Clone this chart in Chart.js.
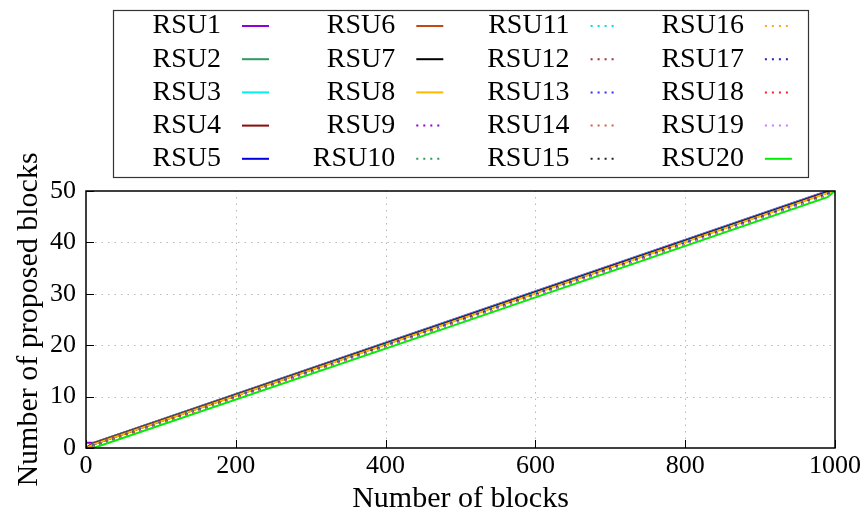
<!DOCTYPE html>
<html lang="en">
<head>
<meta charset="UTF-8">
<title>Proposed blocks per RSU</title>
<script src="https://cdn.jsdelivr.net/npm/chart.js"></script>
<style>
  body { margin: 0; background: #fff; }
  #wrap { width: 864px; height: 517px; }
</style>
</head>
<body>
<div id="wrap"><canvas id="myChart"></canvas></div>
<script>
// number of blocks (x) and proposed blocks per RSU (y)
const blocks = [0, 10, 500, 990, 1000];
const rsu1  = [1, 1,   25.5, 50,   50];
const rsu2  = [0, 1,   25.4, 49.9, 50];
const rsu3  = [0, 0.9, 25.4, 49.9, 50];
const rsu4  = [0, 0.9, 25.3, 49.8, 50];
const rsu5  = [0, 0.8, 25.3, 49.8, 50];
const rsu6  = [0, 0.8, 25.2, 49.7, 50];
const rsu7  = [0, 0.7, 25.2, 49.7, 50];
const rsu8  = [0, 0.7, 25.1, 49.6, 50];
const rsu9  = [0, 0.6, 25.1, 49.6, 50];
const rsu10 = [0, 0.6, 25.0, 49.5, 50];
const rsu11 = [0, 0.5, 25.0, 49.5, 50];
const rsu12 = [0, 0.5, 24.9, 49.4, 50];
const rsu13 = [0, 0.4, 24.9, 49.4, 50];
const rsu14 = [0, 0.4, 24.8, 49.3, 50];
const rsu15 = [0, 0.3, 24.8, 49.3, 50];
const rsu16 = [0, 0.3, 24.7, 49.2, 50];
const rsu17 = [0, 0.2, 24.7, 49.2, 50];
const rsu18 = [0, 0.2, 24.6, 49.1, 50];
const rsu19 = [0, 0.1, 24.6, 49.1, 50];
const rsu20 = [0, 0,   24.3, 48.8, 50];

const rsuValues = [rsu1, rsu2, rsu3, rsu4, rsu5, rsu6, rsu7, rsu8, rsu9, rsu10,
                   rsu11, rsu12, rsu13, rsu14, rsu15, rsu16, rsu17, rsu18, rsu19, rsu20];
const rsuNames = ["RSU1", "RSU2", "RSU3", "RSU4", "RSU5", "RSU6", "RSU7", "RSU8", "RSU9", "RSU10",
                  "RSU11", "RSU12", "RSU13", "RSU14", "RSU15", "RSU16", "RSU17", "RSU18", "RSU19", "RSU20"];
const rsuColors = ["#9400d3", "#2e9a5e", "#00f0f0", "#8b0a0a", "#0000e0", "#c04a10", "#000000", "#ffb800",
                   "#9400d3", "#2e9a5e", "#00e0e0", "#a03030", "#3030ff", "#d06040", "#202020", "#f0b020",
                   "#2020c0", "#ff2020", "#c080ff", "#00ee00"];
const rsuDotted = [false, false, false, false, false, false, false, false,
                   true, true, true, true, true, true, true, true, true, true, true, false];

const xTicks = [0, 200, 400, 600, 800, 1000];
const yTicks = [0, 10, 20, 30, 40, 50];

const serif = "'Liberation Serif', 'DejaVu Serif', serif";
const dots = [2, 5];

const datasets = rsuValues.map((vals, i) => ({
  label: rsuNames[i],
  data: blocks.map((b, j) => ({x: b, y: vals[j]})),
  borderColor: rsuColors[i],
  borderWidth: 2,
  borderDash: rsuDotted[i] ? dots : [],
  pointRadius: 0,
  fill: false,
  tension: 0,
  order: rsuValues.length - i   // later series on top, like gnuplot
}));

// gnuplot-like frame: dotted grid, black border, inward ticks, boxed key
const frame = {
  id: 'frame',
  beforeDatasetsDraw(chart) {
    const {ctx, chartArea: a, scales: {x, y}} = chart;
    ctx.save();
    ctx.strokeStyle = '#b8b8b8';
    ctx.lineWidth = 1;
    ctx.setLineDash([1.5, 5]);
    xTicks.forEach(v => {
      if (v === 0 || v === 1000) return;
      const px = Math.round(x.getPixelForValue(v)) + 0.5;
      ctx.beginPath(); ctx.moveTo(px, a.bottom - 9); ctx.lineTo(px, a.top); ctx.stroke();
    });
    yTicks.forEach(v => {
      if (v === 0 || v === 50) return;
      const py = Math.round(y.getPixelForValue(v)) + 0.5;
      ctx.beginPath(); ctx.moveTo(a.left + 9, py); ctx.lineTo(a.right, py); ctx.stroke();
    });
    ctx.restore();
  },
  afterDatasetsDraw(chart) {
    const {ctx, chartArea: a, scales: {x, y}} = chart;
    ctx.save();
    ctx.setLineDash([]);
    ctx.strokeStyle = '#000';
    ctx.lineWidth = 1.5;
    ctx.strokeRect(a.left, a.top, a.right - a.left, a.bottom - a.top);
    ctx.lineWidth = 1;
    xTicks.forEach(v => {
      const px = Math.round(x.getPixelForValue(v)) + 0.5;
      ctx.beginPath(); ctx.moveTo(px, a.bottom); ctx.lineTo(px, a.bottom - 8); ctx.stroke();
    });
    yTicks.forEach(v => {
      const py = Math.round(y.getPixelForValue(v)) + 0.5;
      ctx.beginPath(); ctx.moveTo(a.left, py); ctx.lineTo(a.left + 8, py); ctx.stroke();
    });

    // key box
    ctx.strokeStyle = '#333';
    ctx.lineWidth = 1.2;
    ctx.strokeRect(113.5, 10.5, 695, 167);
    ctx.font = "28px " + serif;
    ctx.fillStyle = '#000';
    ctx.textAlign = 'right';
    ctx.textBaseline = 'middle';
    chart.data.datasets.forEach((ds, i) => {
      const col = Math.floor(i / 5), row = i % 5;
      const tx = 221 + col * 174.3;
      const ty = 26 + row * 33.2;
      ctx.fillText(ds.label, tx, ty);
      ctx.strokeStyle = ds.borderColor;
      ctx.lineWidth = 2;
      ctx.setLineDash(ds.borderDash);
      ctx.beginPath(); ctx.moveTo(tx + 21, ty); ctx.lineTo(tx + 48, ty); ctx.stroke();
    });
    ctx.restore();
  }
};

const ctx = document.getElementById("myChart").getContext('2d');
const myChart = new Chart(ctx, {
  type: 'line',
  data: { datasets: datasets },
  options: {
    responsive: true,
    maintainAspectRatio: false,
    animation: false,
    layout: { padding: { top: 191, right: 28, left: 0, bottom: 0 } },
    plugins: { legend: { display: false }, tooltip: { enabled: false } },
    scales: {
      x: {
        type: 'linear',
        min: 0, max: 1000,
        afterBuildTicks: s => { s.ticks = xTicks.map(v => ({value: v})); },
        afterFit: s => { s.height = 69; },
        grid: { display: false, drawTicks: false },
        border: { display: false },
        ticks: { color: '#000', font: { family: serif, size: 26 }, padding: 3, maxRotation: 0,
                 callback: v => String(v) },
        title: { display: true, text: 'Number of blocks', color: '#000',
                 font: { family: serif, size: 30 }, padding: { top: 3, bottom: 0 } }
      },
      y: {
        min: 0, max: 50,
        afterBuildTicks: s => { s.ticks = yTicks.map(v => ({value: v})); },
        afterFit: s => { s.width = 86; },
        grid: { display: false, drawTicks: false },
        border: { display: false },
        ticks: { color: '#000', font: { family: serif, size: 26 }, padding: 10,
                 callback: v => String(v) },
        title: { display: true, text: 'Number of proposed blocks', color: '#000',
                 font: { family: serif, size: 30 }, padding: { top: 11, bottom: 0 } }
      }
    }
  },
  plugins: [frame]
});
</script>
</body>
</html>
